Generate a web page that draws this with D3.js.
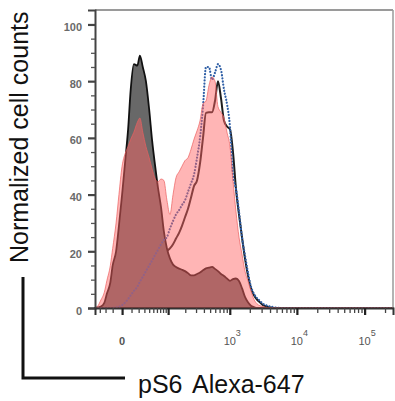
<!DOCTYPE html>
<html><head><meta charset="utf-8">
<script src="https://cdn.jsdelivr.net/npm/d3@7/dist/d3.min.js"></script>
<style>body{margin:0;background:#fff}svg{display:block}</style>
</head><body>
<svg id="chart" width="395" height="401"></svg>
<script>
// Histogram bin centres (pS6 Alexa-647 fluorescence)
const bins = [-40, -34, -28, -22, -18, -13, -10, -6, -3, 0, 3, 6, 9, 13, 18, 22, 27, 33, 40, 47, 55, 63, 73, 83, 95, 108, 123, 139, 157, 176, 198, 222, 249, 278, 311, 347, 387, 431, 480, 535, 595, 661, 735, 817, 907, 1007, 1118, 1241, 1377, 1527, 1694, 1878, 2082, 2309, 2559, 2837, 3144, 3484, 3861, 4277, 4738, 5249, 5815, 8000, 15000, 30000, 60000, 120000, 262144];

// Normalized counts per series
const grayFilled = [0, 0.2, 0.5, 1.8, 5, 9, 15, 20, 29, 40, 52, 63, 77, 86, 85.5, 89, 85, 80, 70, 59, 50, 42.5, 35.5, 27, 21, 17.5, 15.3, 14.5, 13.9, 13.5, 13, 12.3, 11.5, 11.5, 12, 12.5, 13.3, 14, 14.2, 14.5, 13.8, 13, 12, 11.3, 10.4, 9.6, 10.2, 10.4, 9.5, 7, 3.9, 2, 0.8, 0.3, 0, 0, 0, 0, 0, 0, 0, 0, 0, 0, 0, 0, 0, 0, 0];

const grayLine = [0, 0, 0, 0, 0, 0.3, 0.8, 1.5, 2.5, 3.5, 5, 6, 7, 8, 9, 10, 11, 12, 13, 14, 15, 16, 17, 18.5, 20, 21, 22.5, 24.5, 26.5, 29, 32, 35, 39, 43, 45, 51, 60, 68.8, 69, 69, 73, 80, 74, 66, 64, 63, 55, 42, 33, 25, 17.5, 11.5, 7, 4.5, 3, 2, 1, 0.6, 0.3, 0.1, 0, 0, 0, 0, 0, 0, 0, 0, 0];

const blueDotted = [0, 0, 0, 0, 0, 0, 0, 0.2, 0.4, 1, 2, 3.2, 4.5, 6, 7.5, 9.3, 11, 13, 15, 16.8, 18.8, 20.5, 22.5, 24, 25, 28, 30.7, 33, 34.5, 36.3, 38, 41, 44, 47, 53, 60, 71, 85, 85, 80.5, 83, 86, 84, 77, 72, 64, 47, 42, 34, 25, 18.5, 12.5, 7.5, 5, 3.5, 2.5, 1.5, 1, 0.6, 0.4, 0.2, 0.1, 0, 0, 0, 0, 0, 0, 0];

const pinkFilled = [0, 0.7, 2.8, 5.5, 9.6, 15, 21, 30, 40, 50, 54.6, 57, 59.5, 62, 65.5, 67, 62, 57, 53, 49, 45.5, 44.5, 45.5, 45, 38, 33, 40, 46, 48, 50, 52, 53, 56, 59.5, 62.5, 66, 72, 73, 78.5, 81.5, 80, 71, 69, 67, 62, 57, 45, 34, 25, 19, 13, 9.5, 6, 3, 1.5, 0.8, 0.5, 0.2, 0, 0, 0, 0, 0, 0, 0, 0, 0, 0, 0];

// Axis ticks
const yMajorTicks = [0, 20, 40, 60, 80, 100];
const yMinorTicks = [5, 10, 15, 25, 30, 35, 45, 50, 55, 65, 70, 75, 85, 90, 95];
const xMajorTicks = [0, 100, 1000, 10000, 100000];
const xMinorTicks = [-30, -20, -10, 10, 20, 30, 40, 50, 60, 70, 80, 90, 200, 300, 400, 500, 600, 700, 800, 900, 2000, 3000, 4000, 5000, 6000, 7000, 8000, 9000, 20000, 30000, 40000, 50000, 60000, 70000, 80000, 90000, 200000];
const xTickLabelValues = [0, 1000, 10000, 100000];
const xTickLabelBase = ["0", "10", "10", "10"];
const xTickLabelExp = ["", "3", "4", "5"];
const yTitle = "Normalized cell counts";
const xTitleParts = ["pS6", "Alexa-647"];

const svg = d3.select("#chart");
const L = 95, R = 393, T = 10, B = 308;
const x = d3.scaleSymlog().constant(26.5).domain([-40, 262144]).range([L, R]);
const y = d3.scaleLinear().domain([0, 105.1]).range([B, T]);

const FONT = "'Liberation Sans', Arial, sans-serif";

function pts(vals) { return bins.map((b, i) => [b, vals[i]]); }
const area = d3.area().x(d => x(d[0])).y0(y(0)).y1(d => y(d[1])).curve(d3.curveMonotoneX);
const line = d3.line().x(d => x(d[0])).y(d => y(d[1])).curve(d3.curveMonotoneX);

const plot = svg.append("g");
// dark gray outline histogram (under gray fill)
plot.append("path").attr("d", line(pts(grayLine)))
  .attr("fill", "none").attr("stroke", "#1e1e1e").attr("stroke-width", 2);
// gray filled histogram with black outline
plot.append("path").attr("d", area(pts(grayFilled)))
  .attr("fill", "#686868").attr("stroke", "#111").attr("stroke-width", 1.8)
  .attr("stroke-linejoin", "round");
// blue dotted histogram
plot.append("path").attr("d", line(pts(blueDotted)))
  .attr("fill", "none").attr("stroke", "#2f5fa6").attr("stroke-width", 2.2)
  .attr("stroke-dasharray", "0.1 3").attr("stroke-linecap", "round");
// pink translucent histogram
plot.append("path").attr("d", area(pts(pinkFilled)))
  .attr("fill", "rgba(255,100,100,0.48)").attr("stroke", "rgba(235,95,95,0.7)").attr("stroke-width", 1);

// Frame
svg.append("line").attr("x1", L).attr("x2", R).attr("y1", T).attr("y2", T)
  .attr("stroke", "#9a9a9a").attr("stroke-width", 2);
svg.append("line").attr("x1", R).attr("x2", R).attr("y1", T).attr("y2", B)
  .attr("stroke", "#9a9a9a").attr("stroke-width", 1.5);

// Y axis
const yMajor = svg.append("g").attr("transform", `translate(${L},0)`)
  .call(d3.axisLeft(y).tickValues(yMajorTicks).tickSize(7).tickPadding(6).tickFormat(d3.format("d")));
yMajor.select(".domain").attr("stroke", "#444").attr("stroke-width", 2);
yMajor.selectAll(".tick line").attr("stroke", "#444").attr("stroke-width", 2.2);
yMajor.selectAll(".tick text").attr("font-family", FONT).attr("font-size", 11).attr("font-weight", "bold")
  .attr("fill", "#6a6a6a").attr("dy", "0.55em");
const yMinor = svg.append("g").attr("transform", `translate(${L},0)`)
  .call(d3.axisLeft(y).tickValues(yMinorTicks).tickSize(4).tickFormat(""));
yMinor.select(".domain").remove();
yMinor.selectAll(".tick line").attr("stroke", "#555").attr("stroke-width", 1.3);

// X axis
const xMajor = svg.append("g").attr("transform", `translate(0,${B})`)
  .call(d3.axisBottom(x).tickValues(xMajorTicks).tickSize(7).tickFormat(""));
xMajor.select(".domain").attr("stroke", "#333").attr("stroke-width", 2);
xMajor.selectAll(".tick line").attr("stroke", "#222").attr("stroke-width", 2.2);
const xMinor = svg.append("g").attr("transform", `translate(0,${B})`)
  .call(d3.axisBottom(x).tickValues(xMinorTicks).tickSize(5).tickFormat(""));
xMinor.select(".domain").remove();
xMinor.selectAll(".tick line").attr("stroke", "#444").attr("stroke-width", 1.3);

// X tick labels with superscripts
xTickLabelValues.forEach((v, i) => {
  const cx = x(v);
  svg.append("text").attr("x", cx).attr("y", 345).attr("text-anchor", "middle")
    .attr("font-family", FONT).attr("font-size", 11).attr("fill", "#555")
    .attr("font-weight", i === 0 ? "bold" : "normal")
    .text(xTickLabelBase[i]);
  if (xTickLabelExp[i]) {
    svg.append("text").attr("x", cx + 6).attr("y", 336).attr("text-anchor", "start")
      .attr("font-family", FONT).attr("font-size", 9).attr("fill", "#555")
      .text(xTickLabelExp[i]);
  }
});

// Axis titles
svg.append("text").attr("transform", "translate(28,263) rotate(-90)")
  .attr("font-family", FONT).attr("font-size", 25).attr("fill", "#111")
  .text(yTitle);
const xt = svg.append("text").attr("y", 393).attr("font-family", FONT).attr("font-size", 25).attr("fill", "#111");
xt.append("tspan").attr("x", 138).text(xTitleParts[0]);
xt.append("tspan").attr("x", 192).text(xTitleParts[1]);

// L-shaped bracket
svg.append("path").attr("d", "M23,277V378H125").attr("fill", "none")
  .attr("stroke", "#111").attr("stroke-width", 3);
</script>
</body></html>
